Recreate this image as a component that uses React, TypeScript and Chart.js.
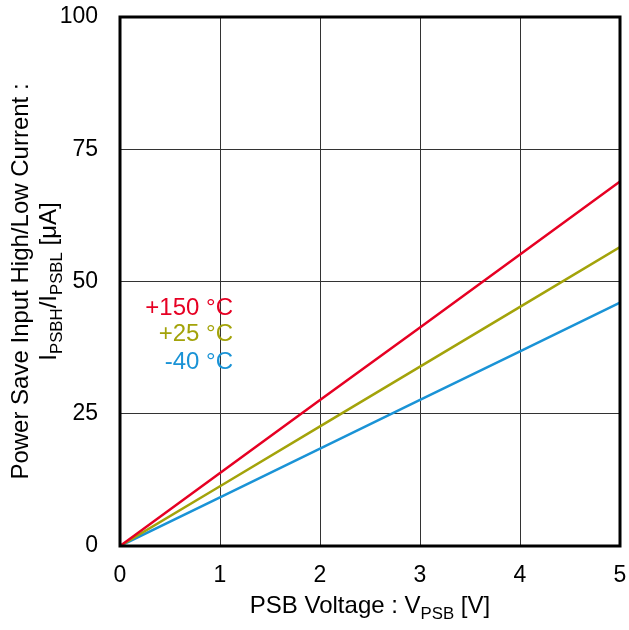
import React, { useEffect, useRef } from "react";
import { Chart, registerables } from "chart.js";

Chart.register(...registerables);

const voltages = [0, 1, 2, 3, 4, 5];
const hot150 = [0, 13.8, 27.6, 41.3, 55.1, 68.9];
const room25 = [0, 11.3, 22.6, 33.9, 45.2, 56.5];
const cold40 = [0, 9.2, 18.4, 27.6, 36.8, 46.0];
const seriesLabels = ["+150 °C", "+25 °C", "-40 °C"];
const seriesColors = ["#E60023", "#A3A30A", "#1A93D6"];
const xTicks = [0, 1, 2, 3, 4, 5];
const yTicks = [0, 25, 50, 75, 100];

const FONT = "'Liberation Sans', Arial, sans-serif";
const TICK_SIZE = 23;
const TITLE_SIZE = 24;

function drawSub(ctx: CanvasRenderingContext2D, parts: [string, boolean][], size: number) {
  let total = 0;
  const widths: number[] = [];
  for (const [t, sub] of parts) {
    ctx.font = `${sub ? size * 0.7 : size}px ${FONT}`;
    const w = ctx.measureText(t).width;
    widths.push(w);
    total += w;
  }
  let x = -total / 2;
  parts.forEach(([t, sub], i) => {
    ctx.font = `${sub ? size * 0.7 : size}px ${FONT}`;
    ctx.textAlign = "left";
    ctx.textBaseline = "alphabetic";
    ctx.fillText(t, x, sub ? size * 0.25 : 0);
    x += widths[i];
  });
}

const decor = {
  id: "decor",
  afterDatasetsDraw(chart: any) {
    const { ctx, chartArea } = chart;
    const { left, right, top, bottom } = chartArea;
    const xs = chart.scales.x;
    const ysc = chart.scales.y;
    ctx.save();
    ctx.strokeStyle = "#000";
    ctx.lineWidth = 3;
    ctx.strokeRect(left, top, right - left, bottom - top);

    ctx.fillStyle = "#000";
    ctx.font = `${TICK_SIZE}px ${FONT}`;
    ctx.textAlign = "right";
    ctx.textBaseline = "middle";
    yTicks.forEach((v) => ctx.fillText(String(v), 98, ysc.getPixelForValue(v)));
    ctx.textAlign = "center";
    xTicks.forEach((v) => ctx.fillText(String(v), xs.getPixelForValue(v), 576));

    // x title
    ctx.save();
    ctx.translate(370, 613);
    drawSub(ctx, [["PSB Voltage : V", false], ["PSB", true], [" [V]", false]], TITLE_SIZE);
    ctx.restore();

    // y title
    const cy = (top + bottom) / 2;
    ctx.save();
    ctx.translate(28, cy);
    ctx.rotate(-Math.PI / 2);
    drawSub(ctx, [["Power Save Input High/Low Current :", false]], TITLE_SIZE);
    ctx.restore();
    ctx.save();
    ctx.translate(56, cy);
    ctx.rotate(-Math.PI / 2);
    drawSub(ctx, [["I", false], ["PSBH", true], ["/I", false], ["PSBL", true], [" [μA]", false]], TITLE_SIZE);
    ctx.restore();

    // series labels
    ctx.font = `${TITLE_SIZE}px ${FONT}`;
    ctx.textAlign = "right";
    ctx.textBaseline = "middle";
    const ys = [308, 334, 362];
    seriesLabels.forEach((l, i) => {
      ctx.fillStyle = seriesColors[i];
      ctx.fillText(l, 233, ys[i]);
    });
    ctx.restore();
  },
};

export default function App() {
  const ref = useRef<HTMLCanvasElement>(null);
  useEffect(() => {
    const series = [hot150, room25, cold40];
    const chart = new Chart(ref.current!, {
      type: "line",
      data: {
        datasets: series.map((s, i) => ({
          label: seriesLabels[i],
          data: voltages.map((v, j) => ({ x: v, y: s[j] })),
          borderColor: seriesColors[i],
          borderWidth: 2.5,
          pointRadius: 0,
          tension: 0,
          fill: false,
        })),
      },
      options: {
        animation: false,
        responsive: false,
        maintainAspectRatio: false,
        layout: { padding: { top: 17, right: 9, left: 0, bottom: 0 } },
        plugins: { legend: { display: false }, tooltip: { enabled: false } },
        scales: {
          x: {
            type: "linear",
            min: 0,
            max: 5,
            afterBuildTicks: (s: any) => {
              s.ticks = xTicks.map((v) => ({ value: v }));
            },
            afterFit: (s: any) => {
              s.height = 84;
            },
            grid: { color: "#333", lineWidth: 1, drawTicks: false },
            border: { display: false },
            ticks: { display: false },
          },
          y: {
            type: "linear",
            min: 0,
            max: 100,
            afterBuildTicks: (s: any) => {
              s.ticks = yTicks.map((v) => ({ value: v }));
            },
            afterFit: (s: any) => {
              s.width = 120;
            },
            grid: { color: "#333", lineWidth: 1, drawTicks: false },
            border: { display: false },
            ticks: { display: false },
          },
        },
      },
      plugins: [decor],
    });
    return () => chart.destroy();
  }, []);
  return (
    <div style={{ position: "fixed", left: 0, top: 0, width: 629, height: 630, background: "#fff" }}>
      <canvas ref={ref} width={629} height={630} style={{ width: 629, height: 630 }} />
    </div>
  );
}
